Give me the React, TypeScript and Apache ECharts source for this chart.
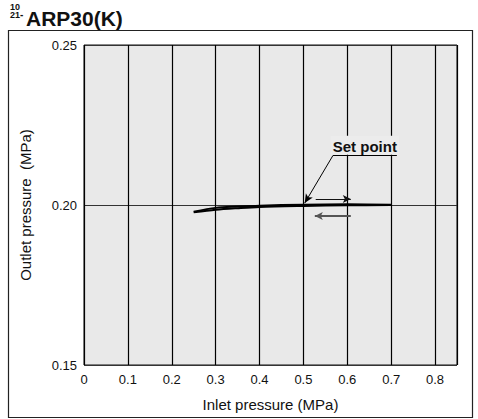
import React, { useEffect, useRef } from "react";
import * as echarts from "echarts";

const xTicks = [0, 0.1, 0.2, 0.3, 0.4, 0.5, 0.6, 0.7, 0.8];
const yTicks = [0.15, 0.2, 0.25];
// Outlet pressure curve (upper and lower edge of the hysteresis band)
const upperCurve: [number, number][] = [
  [0.25, 0.1979], [0.3, 0.1991], [0.35, 0.1995], [0.4, 0.1998], [0.5, 0.2001], [0.6, 0.2002], [0.7, 0.2001],
];
const lowerCurve: [number, number][] = [
  [0.25, 0.1977], [0.3, 0.1985], [0.35, 0.199], [0.4, 0.1994], [0.5, 0.1997], [0.6, 0.1999], [0.7, 0.2],
];
const setPointLeader: [number, number][] = [[0.567, 0.2154], [0.503, 0.2006]];
const setPointUnderline: [number, number][] = [[0.567, 0.2154], [0.713, 0.2154]];
const rightArrow: [number, number][] = [[0.528, 0.2019], [0.608, 0.2019]];
const leftArrow: [number, number][] = [[0.608, 0.19655], [0.526, 0.19655]];

const FONT = "'Liberation Sans', Arial, sans-serif";

export default function App() {
  const ref = useRef<HTMLDivElement>(null);
  useEffect(() => {
    if (!ref.current) return;
    const chart = echarts.init(ref.current, undefined, { renderer: "svg" });
    const styles = [
      { color: "#000", width: 1, type: "solid" },
      { color: "#000", width: 1, type: "solid" },
      { color: "#111", width: 1.2, type: "solid" },
      { color: "#555", width: 1.8, type: "solid" },
    ];
    const pairs = [setPointLeader, setPointUnderline, rightArrow, leftArrow];
    const mlData = pairs.map((p, i) => {
      const start: any = { coord: p[0], symbol: "none", lineStyle: styles[i], label: { show: false } };
      const end: any = { coord: p[1], symbol: i === 1 ? "none" : "arrow", symbolSize: i === 0 ? [6, 9] : [6, 8] };
      if (i === 1) {
        start.label = {
          show: true, formatter: "Set point", position: "insideMiddleTop", distance: 1,
          fontFamily: FONT, fontSize: 15, fontWeight: "bold", color: "#111",
          backgroundColor: "#ececec", padding: [3, 2, 1, 2],
        };
      }
      return [start, end];
    });
    chart.setOption({
      animation: false,
      grid: {
        left: 84, right: 21, top: 45, bottom: 54,
        show: true, backgroundColor: "#e9e9e9", borderColor: "#111", borderWidth: 1,
      },
      xAxis: {
        type: "value", min: 0, max: 0.85, interval: 0.1,
        name: "Inlet pressure (MPa)", nameLocation: "middle", nameGap: 32,
        nameTextStyle: { fontFamily: FONT, fontSize: 15, color: "#111" },
        axisLine: { show: false }, axisTick: { show: false },
        axisLabel: {
          fontFamily: FONT, fontSize: 13, color: "#111", margin: 8,
          formatter: (v: number) => {
            const hit = xTicks.find((t) => Math.abs(t - v) < 1e-6);
            if (hit === undefined) return "";
            return hit === 0 ? "0" : hit.toFixed(1);
          },
        },
        splitLine: { show: true, lineStyle: { color: "#000", width: 1.2 } },
      },
      yAxis: {
        type: "value", min: 0.15, max: 0.25, interval: 0.05,
        name: "Outlet pressure  (MPa)", nameLocation: "middle", nameGap: 51,
        nameTextStyle: { fontFamily: FONT, fontSize: 15, color: "#111" },
        axisLine: { show: false }, axisTick: { show: false },
        axisLabel: {
          fontFamily: FONT, fontSize: 13, color: "#111", margin: 7,
          formatter: (v: number) => {
            const hit = yTicks.find((t) => Math.abs(t - v) < 1e-6);
            return hit === undefined ? "" : hit.toFixed(2);
          },
        },
        splitLine: { show: true, lineStyle: { color: "#333", width: 1 } },
      },
      series: [
        {
          type: "line", data: upperCurve, smooth: 0.3, symbol: "none",
          lineStyle: { color: "#000", width: 2 },
          markLine: { silent: true, animation: false, data: mlData },
        },
        {
          type: "line", data: lowerCurve, smooth: 0.3, symbol: "none",
          lineStyle: { color: "#000", width: 2 },
        },
      ],
      graphic: [
        { type: "rect", shape: { x: 8.5, y: 30.5, width: 464, height: 387 }, style: { fill: "none", stroke: "#222", lineWidth: 1.2 }, z: -1 },
        { type: "text", x: 10, y: 2, style: { text: "10", font: "bold 9px 'Liberation Sans', Arial", fill: "#111" } },
        { type: "text", x: 10, y: 10.5, style: { text: "21", font: "bold 9px 'Liberation Sans', Arial", fill: "#111" } },
        { type: "text", x: 20, y: 9, style: { text: "-", font: "bold 10px 'Liberation Sans', Arial", fill: "#111" } },
        { type: "text", x: 26, y: 8, style: { text: "ARP30(K)", font: "bold 21px 'Liberation Sans', Arial, sans-serif", fill: "#111" } },
      ],
    });
    return () => chart.dispose();
  }, []);
  return <div ref={ref} style={{ position: "absolute", left: 0, top: 0, width: 478, height: 419 }} />;
}
